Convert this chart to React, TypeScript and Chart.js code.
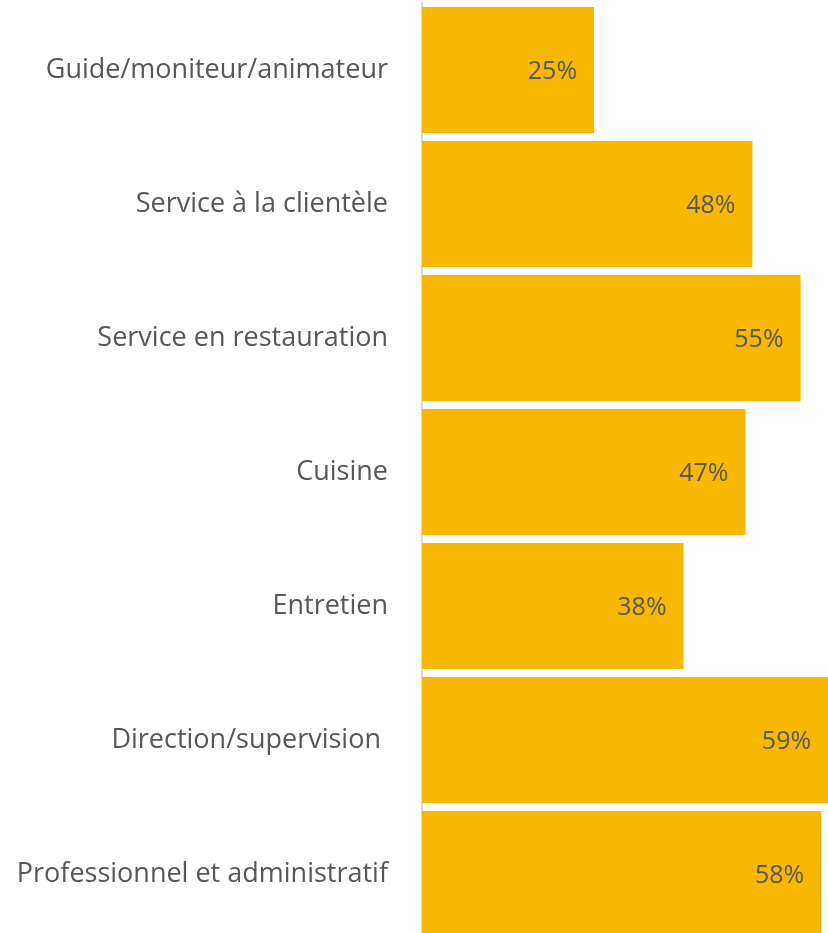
import React, { useEffect, useRef } from "react";
import { Chart, registerables } from "chart.js";

Chart.register(...registerables);

const categories = [
  "Guide/moniteur/animateur",
  "Service à la clientèle",
  "Service en restauration",
  "Cuisine",
  "Entretien",
  "Direction/supervision ",
  "Professionnel et administratif",
];
const values = [25, 48, 55, 47, 38, 59, 58];
const valueLabels = ["25%", "48%", "55%", "47%", "38%", "59%", "58%"];

const FONT = "'Open Sans', sans-serif";

const valueLabelPlugin = {
  id: "valueLabels",
  afterDatasetsDraw(chart: any) {
    const ctx = chart.ctx;
    const meta = chart.getDatasetMeta(0);
    ctx.save();
    ctx.font = `25px ${FONT}`;
    ctx.fillStyle = "#575757";
    ctx.textAlign = "right";
    ctx.textBaseline = "middle";
    meta.data.forEach((bar: any, i: number) => {
      ctx.fillText(valueLabels[i], bar.x - 17, bar.y + 2);
    });
    ctx.restore();
  },
};

export default function App() {
  const ref = useRef<HTMLCanvasElement>(null);
  useEffect(() => {
    document.body.style.margin = "0";
    document.body.style.overflow = "hidden";
    const chart = new Chart(ref.current!, {
      type: "bar",
      data: {
        labels: categories,
        datasets: [
          {
            data: values,
            backgroundColor: "#F9B800",
            borderWidth: 0,
            barPercentage: 1,
            categoryPercentage: 126 / 134,
          },
        ],
      },
      options: {
        indexAxis: "y",
        animation: false,
        responsive: false,
        maintainAspectRatio: false,
        layout: { padding: { top: 3, bottom: 4, left: 0, right: 0 } },
        plugins: {
          legend: { display: false },
          tooltip: { enabled: false },
        },
        scales: {
          x: {
            display: false,
            min: 0,
            max: 60,
          },
          y: {
            afterFit(scale: any) {
              scale.width = 422;
              scale.paddingTop = 0;
              scale.paddingBottom = 0;
            },
            grid: { display: false, drawTicks: false },
            border: { display: true, color: "#d9d9d9", width: 2 },
            ticks: {
              padding: 34,
              color: "#575757",
              font: { family: FONT, size: 27 },
            },
          },
        },
      },
      plugins: [valueLabelPlugin],
    });
    return () => chart.destroy();
  }, []);
  return (
    <div style={{ width: 835, height: 945 }}>
      <canvas ref={ref} width={835} height={945} style={{ display: "block" }} />
    </div>
  );
}
